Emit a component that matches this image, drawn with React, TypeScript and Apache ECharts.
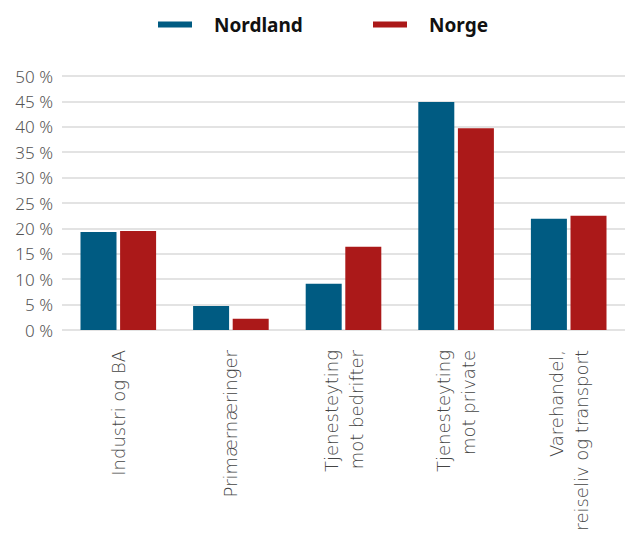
import React, { useEffect, useRef } from "react";
import * as echarts from "echarts";

const categories = [
  "Industri og BA",
  "Primærnæringer",
  "Tjenesteyting\nmot bedrifter",
  "Tjenesteyting\nmot private",
  "Varehandel,\nreiseliv og transport",
];
const nordland = [19.3, 4.7, 9.1, 44.9, 21.9];
const norge = [19.5, 2.2, 16.4, 39.7, 22.5];
const yTicks = { min: 0, max: 50, interval: 5 };

const FONT = "'Noto Sans', sans-serif";

export default function App() {
  const ref = useRef<HTMLDivElement>(null);
  useEffect(() => {
    document.body.style.margin = "0";
    const chart = echarts.init(ref.current!, null, { renderer: "svg" });
    const legendText = {
      fontSize: 19,
      fontWeight: "bold",
      color: "#111",
      fontFamily: FONT,
      padding: [0, 0, 0, 17],
    };
    chart.setOption({
      animation: false,
      textStyle: { fontFamily: FONT },
      legend: [
        {
          data: ["Nordland"],
          left: 158,
          top: 15,
          padding: 0,
          icon: "rect",
          itemWidth: 34,
          itemHeight: 6,
          textStyle: legendText,
        },
        {
          data: ["Norge"],
          left: 373,
          top: 15,
          padding: 0,
          icon: "rect",
          itemWidth: 34,
          itemHeight: 6,
          textStyle: legendText,
        },
      ],
      grid: { left: 62, right: 0, top: 76, bottom: 205, containLabel: false },
      xAxis: {
        type: "category",
        data: categories,
        axisLine: { show: false },
        axisTick: { show: false },
        axisLabel: {
          rotate: 90,
          margin: 20,
          fontSize: 18,
          lineHeight: 25,
          color: "#444",
          fontFamily: "'DejaVu Sans', sans-serif",
          fontWeight: 200,
          interval: 0,
        },
      },
      yAxis: {
        type: "value",
        min: yTicks.min,
        max: yTicks.max,
        interval: yTicks.interval,
        axisLine: { show: false },
        axisTick: { show: false },
        splitLine: { show: true, lineStyle: { color: "#dadada", width: 1.5 } },
        axisLabel: {
          formatter: "{value} %",
          fontSize: 17,
          color: "#555",
          fontWeight: 300,
          margin: 9,
        },
      },
      series: [
        {
          name: "Nordland",
          type: "bar",
          data: nordland,
          barWidth: 36,
          barGap: "10%",
          itemStyle: { color: "#005b82" },
        },
        {
          name: "Norge",
          type: "bar",
          data: norge,
          barWidth: 36,
          barGap: "10%",
          itemStyle: { color: "#ab1919" },
        },
      ],
    });
    return () => chart.dispose();
  }, []);
  return <div ref={ref} style={{ width: 625, height: 535 }} />;
}
